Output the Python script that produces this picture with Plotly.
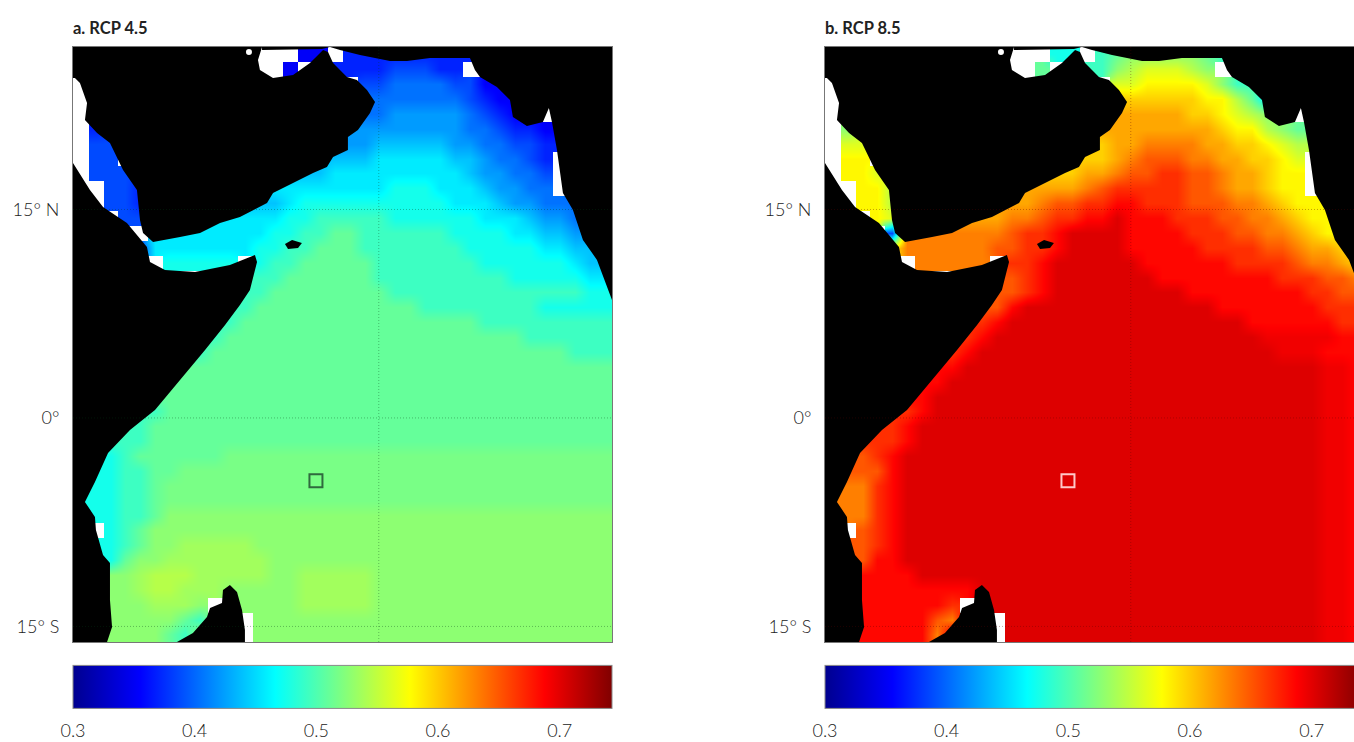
import plotly.graph_objects as go

W, H = 1354, 742

# value levels: every letter in the grids stands for one reading of the colour scale; '.' = no data (white)
levels = "abcdefghijklmnopqrstuvwxyzMNW"
level_values = [0.30, 0.3175, 0.335, 0.3525, 0.37, 0.3875, 0.405, 0.4225, 0.44, 0.4575,
                0.475, 0.4925, 0.51, 0.5275, 0.545, 0.5625, 0.58, 0.5975, 0.615, 0.6325,
                0.65, 0.6675, 0.685, 0.7025, 0.72, 0.7375, 0.5188, 0.5363, 0.6937]

rcp45_rows = [
    '.'*15+'dd'+'.'+'e'*9+'.',
    '.'*14+'d..e'+'eeefffee'+'.',
    '.'*19+'f'+'fggggffd'+'d'+'.',
    '.'*19+'g'+'ggggggfed'+'d'+'.',
    '.'*19+'g'+'ghhhhhgfed'+'d'+'.',
    '.e'+'.'*15+'hh'+'hhhhhhhggfeed'+'d'+'.',
    '.ff'+'.'*13+'hh'+'hhiiiiihhggffe'+'e'+'.',
    '.ff'+'.'*12+'ii'+'iiijjjjjiihggfe'+'.',
    '.fff.'+'.'*9+'ii'+'ijjjjjjjjjihhggf'+'.',
    '..ffe'+'.'*8+'jj'+'jjjjjjkkkjjjihhgg'+'.',
    '..ffe'+'.'*6+'ii'+'ijkkkkkkkkkkjjjihhgg'+'gg',
    '...ff'+'...'+'jjj'+'jjjkklllllkkkkkkjjjihhg',
    '.'*5+'jjj'+'jjjjjkkllmmllllllkkkkjjiih',
    '....f'+'jjjjjjjkkllmmmlllllllkkkkkjjii',
    '.'*6+'kkkkk.kllmmmmmlllllllkkkkkkjii',
    '.'*10+'ll'+'llmmmmmmlllllllllkkkkkjj',
    '.'*10+'ll'+'l'+'m'*8+'l'*13+'kk',
    '.'*9+'ll'+'l'+'m'*11+'l'*8+'k'*5,
    '.'*8+'ll'+'l'+'m'*16+'l'*9,
    '.'*7+'ll'+'l'+'m'*20+'l'*6,
    '.'*6+'ll'+'l'+'m'*24+'l'*3,
    '.'*6+'mm'+'m'*28,
    '.'*5+'mm'+'m'*29,
    '.'*4+'mm'+'m'*30,
    '.'*3+'ll'+'l'+'m'*30,
    '..'+'ll'+'l'+'m'*31,
    '.'+'ll'+'ll'+'m'*31,
    'kk'+'kl'+'m'*6+'M'*26,
    'kk'+'kll'+'mm'+'M'*29,
    'k'+'kkll'+'mM'+'M'*29,
    'k'+'kkll'+'m'+'M'*30,
    'k'+'kkll'+'m'+'n'*30,
    '..'+'klm'+'n'*31,
    '.k'+'klm'+'nn'+'NNNNN'+'n'*24,
    '.k'+'kmnn'+'N'*7+'n'*23,
    '..'+'nnN'+'oo'+'oNNNNN'+'nn'+'NNNNN'+'n'*16,
    '..'+'n'+'nNoo'+'NN'+'N'+'nn'+'nnn'+'NNNNN'+'n'*16,
    '..'+'n'+'nnNNN'+'n'+'.'+'nn'+'nnn'+'NNNNN'+'n'*16,
    '..'+'n'+'nnnn'+'m'+'l'+'nn'+'.'+'n'*24,
    '..'+'n'+'nnn'+'m'+'l'+'nnn'+'.'+'n'*24,
]

rcp85_rows = [
    '.'*15+'kk'+'.'+'lmnnnnnml'+'.',
    '.'*14+'m..l'+'lnopppon'+'.',
    '.'*19+'p'+'pqqqqpnl'+'l'+'.',
    '.'*19+'r'+'rrrrrqqom'+'j'+'.',
    '.'*19+'s'+'ssssrrqpon'+'n'+'.',
    '.n'+'.'*15+'ss'+'sssssssrqqonm'+'m'+'.',
    '.pp'+'.'*13+'rr'+'rssttttssrrqpo'+'o'+'.',
    '.qq'+'.'*12+'rr'+'rrstuuuttssrrqp'+'.',
    '.qqp.'+'.'*9+'rr'+'rsstuuvvuutssrqq'+'.',
    '..qqo'+'.'*8+'ss'+'sstuvvvvvuutssrqq'+'.',
    '..qqo'+'.'*6+'ss'+'stuuvvwwvvvuuuttsrqq'+'qq',
    '...qp'+'...'+'sss'+'sttuvvwwxwwwvvvuuttsrqq',
    '....f'+'ttt'+'ttttuvvwxxxxwwwwvvvuuttsrq',
    '....q'+'ttttttuuvvwxxxxwwwwwvvvvuutssr',
    '.'*6+'ttttt.vvwxxxxxxwwwwwwvvvvuttsr',
    '.'*10+'uu'+'uvwxxxxxxxwwwwwwwwvvvuut',
    '.'*10+'uu'+'uvw'+'x'*9+'w'*8+'vvuu',
    '.'*9+'uu'+'uw'+'x'*13+'w'*7+'vvv',
    '.'*8+'vv'+'vw'+'x'*16+'w'*6+'vv',
    '.'*7+'vv'+'vw'+'x'*18+'W'*5+'ww',
    '.'*6+'vv'+'vw'+'x'*20+'WWWwww',
    '.'*6+'ww'+'w'+'x'*24+'WWw',
    '.'*5+'ww'+'w'+'x'*25+'WWw',
    '.'*4+'ww'+'w'+'x'*26+'WWw',
    '.'*3+'vv'+'vw'+'x'*26+'WWw',
    '..'+'vv'+'vw'+'x'*27+'WWw',
    '.'+'vv'+'vvw'+'x'*27+'WWw',
    'uu'+'uvw'+'x'*28+'WWw',
    'uu'+'uuw'+'x'*28+'WWw',
    't'+'ttvw'+'x'*28+'WWw',
    't'+'ttvw'+'x'*28+'WWw',
    't'+'ttvw'+'x'*28+'WWw',
    '..'+'uvw'+'x'*28+'WWw',
    '.u'+'uvw'+'x'*28+'WWw',
    '.u'+'uww'+'x'*28+'WWw',
    '..'+'wwww'+'x'*27+'WWw',
    '..'+'wwwwwwww'+'xx'+'x'*21+'WWw',
    '..'+'wwwwwwv'+'.'+'xx'+'x'*21+'WWw',
    '..'+'wwwwwut'+'xx'+'.'+'x'*21+'WWw',
    '..'+'wwwwwt'+'x'+'xx'+'.'+'x'*21+'WWw',
]

# map frame, degrees
lon_min, lon_max = 38.0, 76.78
lat_min, lat_max = -16.12, 26.69
lon_max_b = 76.06
cell_lon, cell_lat = 1.0791, 1.0701
grid_lats = [15, 0, -15]
grid_lons = [60]
lat_labels = ["15° N", "0°", "15° S"]
cbar_ticks = [0.3, 0.4, 0.5, 0.6, 0.7]
cbar_labels = ["0.3", "0.4", "0.5", "0.6", "0.7"]
z_min, z_max = 0.30, 0.743
site_lon, site_lat = [55.48], [-4.52]
islet_lon, islet_lat = [50.66], [26.33]

arabia_lon = [38.00,51.60,51.31,51.45,52.39,53.83,55.05,55.99,56.35,56.71,57.71,58.43,59.15,59.73,59.37,58.50,57.78,57.78,56.71,56.27,55.27,53.83,52.39,51.96,50.01,48.58,47.14,45.70,43.76,43.04,42.82,42.60,41.60,40.66,39.73,38.86,39.01,38.50,38.14,38.00]
arabia_lat = [26.69,26.69,25.76,25.04,24.46,24.68,25.54,26.47,26.33,25.54,24.53,24.32,23.60,22.73,21.94,20.72,20.22,19.28,18.78,18.06,17.63,16.91,16.19,15.47,14.46,14.03,13.31,13.02,12.66,13.31,14.24,16.40,17.84,19.78,20.50,21.44,22.66,24.10,24.46,24.46]
asia_lon = [51.60,51.60,55.91,56.49,57.21,58.65,60.81,62.03,63.68,66.56,66.92,67.28,68.50,69.44,69.65,70.66,71.81,72.24,72.46,72.82,73.25,73.97,74.69,75.70,76.78,76.78]
asia_lat = [26.69,26.47,26.55,26.69,26.47,26.12,25.68,25.68,25.90,25.90,25.04,24.53,23.81,22.88,21.65,21.01,21.29,22.30,21.29,19.28,16.19,14.96,12.81,11.37,8.49,26.69]
africa_lon = [38.00,39.22,40.16,41.88,43.32,43.54,44.62,46.78,49.29,51.09,51.24,50.73,50.01,48.94,47.50,45.70,43.90,42.10,40.52,39.58,38.86,39.58,39.65,40.16,40.66,40.66,40.81,40.45,38.00]
africa_lat = [18.35,16.40,15.18,14.03,12.30,11.22,10.65,10.50,11.01,11.73,11.22,9.21,8.13,6.69,4.89,2.73,0.58,-0.86,-2.52,-4.60,-6.04,-7.12,-8.06,-9.86,-10.43,-13.09,-15.04,-16.12,-16.12]
socotra_lon = [53.25,53.76,54.47,54.19,53.47]
socotra_lat = [12.52,12.81,12.59,12.23,12.16]
madagascar_lon = [45.48,46.63,47.64,47.86,48.72,48.79,49.29,49.80,50.16,50.37,50.37]
madagascar_lat = [-16.12,-15.47,-14.32,-13.67,-13.31,-12.37,-12.01,-12.52,-13.81,-15.25,-16.12]
land = [(arabia_lon, arabia_lat), (asia_lon, asia_lat), (africa_lon, africa_lat),
        (socotra_lon, socotra_lat), (madagascar_lon, madagascar_lat)]

JET = [[0, "rgb(0,0,143)"], [0.125, "rgb(0,0,255)"], [0.375, "rgb(0,255,255)"],
       [0.625, "rgb(255,255,0)"], [0.875, "rgb(255,0,0)"], [1, "rgb(128,0,0)"]]
lookup = dict(zip(levels, level_values))
TICK_FONT = dict(family="Lato", size=18, color="#222222", weight=300)


def decode(rows):
    out = []
    for r in rows:
        r = r[:36].ljust(36, r[-1])
        out.append([lookup.get(c) for c in r])
    return out


lons = [lon_min + (i + 0.5) * cell_lon for i in range(36)]
lats = [lat_max - (j + 0.5) * cell_lat for j in range(40)]

fig = go.Figure()
panels = [
    ("x", "y", rcp45_rows, 73, "rgba(0,60,20,0.35)", "#2f6a3e"),
    ("x2", "y2", rcp85_rows, 825, "rgba(90,0,0,0.35)", "#ffc8c8"),
]
for xa, ya, rows, left, gridc, sitec in panels:
    fig.add_trace(go.Heatmap(
        x=lons, y=lats, z=decode(rows), xaxis=xa, yaxis=ya, colorscale=JET, zmin=z_min, zmax=z_max,
        hoverinfo="skip", zsmooth="best",
        colorbar=dict(orientation="h", x=left / W, xanchor="left", y=(H - 742) / H, yanchor="bottom",
                      lenmode="pixels", len=539, thicknessmode="pixels", thickness=43,
                      xpad=0, ypad=0, outlinecolor="#8a8a8a", outlinewidth=1,
                      tickmode="array", tickvals=cbar_ticks, ticktext=cbar_labels,
                      ticks="outside", ticklen=7, tickcolor="rgba(0,0,0,0)", tickfont=TICK_FONT),
    ))
    for lo, la in land:
        fig.add_trace(go.Scatter(x=lo, y=la, xaxis=xa, yaxis=ya, mode="lines", fill="toself",
                                 fillcolor="black", line=dict(width=0, color="black"),
                                 hoverinfo="skip", showlegend=False))
    fig.add_trace(go.Scatter(x=islet_lon, y=islet_lat, xaxis=xa, yaxis=ya, mode="markers",
                             marker=dict(symbol="circle", size=6, color="white"),
                             hoverinfo="skip", showlegend=False))
    for la in grid_lats:
        fig.add_trace(go.Scatter(x=[lon_min, lon_max], y=[la, la], xaxis=xa, yaxis=ya, mode="lines",
                                 line=dict(color=gridc, width=1, dash="1px,2px"), hoverinfo="skip", showlegend=False))
    for lo in grid_lons:
        fig.add_trace(go.Scatter(x=[lo, lo], y=[lat_min, lat_max], xaxis=xa, yaxis=ya, mode="lines",
                                 line=dict(color=gridc, width=1, dash="1px,2px"), hoverinfo="skip", showlegend=False))
    fig.add_trace(go.Scatter(x=site_lon, y=site_lat, xaxis=xa, yaxis=ya, mode="markers",
                             marker=dict(symbol="square-open", size=13, color=sitec, line=dict(width=2, color=sitec)),
                             hoverinfo="skip", showlegend=False))

ydom = [1 - 642 / H, 1 - 47 / H]
common_x = dict(showgrid=False, zeroline=False, showticklabels=False, ticks="", showline=True,
                linecolor="#777", linewidth=1, mirror=True)
common_y = dict(showgrid=False, zeroline=False, tickmode="array", tickvals=grid_lats, ticktext=lat_labels,
                ticks="", tickfont=TICK_FONT, ticklabelstandoff=9, showline=True,
                linecolor="#777", linewidth=1, mirror=True, range=[lat_min, lat_max], domain=ydom)
fig.update_layout(
    width=W, height=H, margin=dict(l=0, r=0, t=0, b=0, pad=0, autoexpand=False),
    paper_bgcolor="white", plot_bgcolor="white", showlegend=False,
    xaxis=dict(domain=[73 / W, 612 / W], range=[lon_min, lon_max], anchor="y", **common_x),
    yaxis=dict(anchor="x", **common_y),
    xaxis2=dict(domain=[825 / W, 1], range=[lon_min, lon_max_b], anchor="y2", **common_x),
    yaxis2=dict(anchor="x2", **common_y),
    annotations=[
        dict(text="<b>a. RCP 4.5</b>", xref="paper", yref="paper", x=71 / W, y=1 - 28 / H, xanchor="left",
             yanchor="middle", showarrow=False, font=dict(family="Lato", size=16.5, color="#222")),
        dict(text="<b>b. RCP 8.5</b>", xref="paper", yref="paper", x=823 / W, y=1 - 28 / H, xanchor="left",
             yanchor="middle", showarrow=False, font=dict(family="Lato", size=16.5, color="#222")),
    ],
)
fig.write_html("out.html", config={"displayModeBar": False},
               post_script="document.body.style.margin='0';document.body.style.overflow='hidden';")
